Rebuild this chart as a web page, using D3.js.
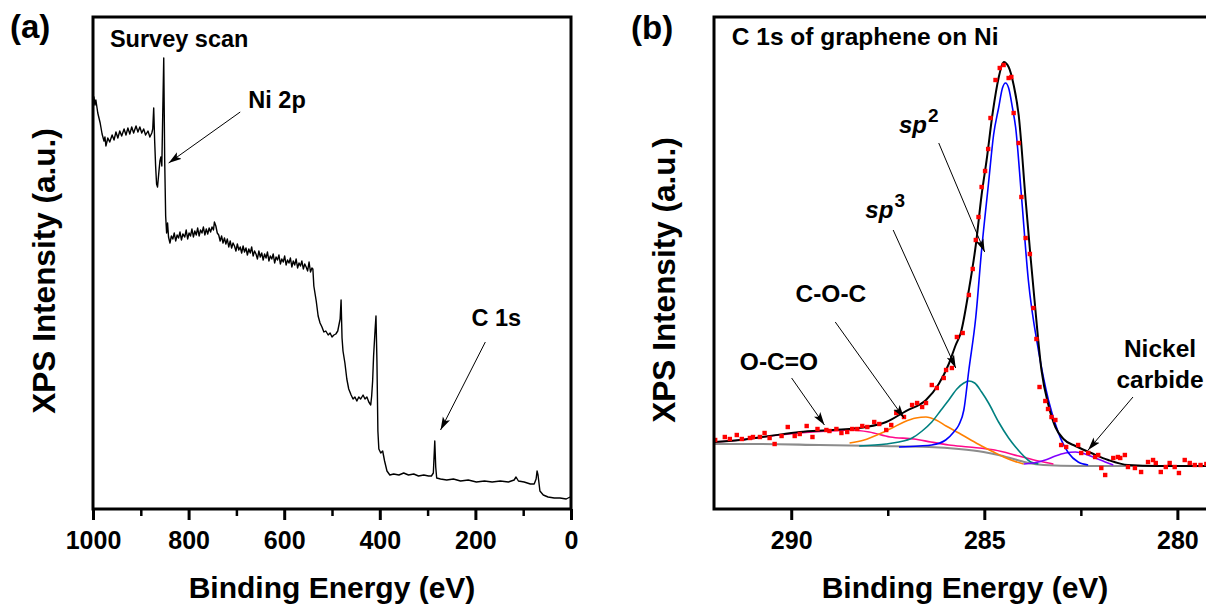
<!DOCTYPE html>
<html><head><meta charset="utf-8">
<script src="https://cdn.jsdelivr.net/npm/d3@7"></script>
<style>
html,body{margin:0;padding:0;background:#fff;}
svg text{font-family:"Liberation Sans",Arial,sans-serif;font-weight:bold;fill:#000;}
</style></head><body>
<svg id="chart" width="1206" height="607"></svg>
<script>
// ---------------- DATA ----------------
// Panel (a): survey spectrum [binding energy (eV), intensity (a.u.)]
const surveySpectrum = [
[1000,408],[998,412],[996,404],[994,409],[990,396],[985,386],[981,375],[977,368],[975,372],[973,363],[969,371],[965,367],[960,374],[956,369],[952,377],[948,371],[944,378],[940,373],[935,380],[931,374],[927,381],[923,375],[919,382],[915,376],[910,383],[906,377],[902,382],[898,376],[894,380],[890,374],[885,378],[881,372],[877,376],[875,380],[873,401],[871,368],[869,343],[867,325],[865,322],[862,338],[860,348],[858,352],[856,343],[854,398],[852,451],[850,348],[848,293],[846,276],[844,286],[842,272],[839,266],[836,273],[833,270],[830,276],[827,268],[824,274],[821,271],[818,277],[815,269],[812,275],[808,272],[805,279],[802,270],[799,276],[796,273],[793,280],[790,272],[787,278],[784,274],[781,281],[778,273],[775,279],[772,276],[769,282],[766,274],[763,280],[760,275],[757,281],[754,277],[751,282],[748,279],[746,287],[743,283],[740,276],[737,274],[734,268],[731,273],[728,266],[725,271],[722,265],[719,270],[716,262],[713,268],[710,261],[707,266],[704,263],[701,258],[698,265],[695,259],[692,262],[689,256],[686,263],[683,257],[680,261],[677,254],[674,260],[671,256],[668,262],[665,253],[662,258],[659,255],[656,250],[653,258],[650,252],[647,256],[644,249],[641,255],[638,251],[635,257],[632,248],[629,253],[626,250],[623,255],[620,246],[617,252],[614,249],[611,254],[608,245],[605,250],[602,247],[599,253],[596,244],[593,249],[590,246],[587,251],[584,242],[581,248],[578,244],[575,250],[572,241],[569,246],[566,243],[563,248],[560,240],[557,245],[554,242],[551,238],[548,247],[545,237],[542,241],[540,240],[538,223],[533,208],[529,193],[525,186],[521,182],[517,177],[513,178],[508,174],[504,176],[500,172],[496,174],[492,175],[488,178],[483,190],[481,209],[479,171],[477,158],[473,146],[469,130],[465,120],[460,114],[456,110],[452,112],[448,108],[444,112],[440,110],[435,114],[431,110],[427,112],[423,107],[419,104],[417,113],[415,128],[413,153],[410,178],[408,193],[406,148],[404,78],[402,60],[398,56],[394,58],[390,48],[385,38],[379,34],[371,35],[360,34],[350,36],[340,34],[329,35],[319,33],[308,34],[298,33],[292,33],[288,36],[285,68],[283,42],[281,31],[273,30],[260,29],[246,30],[231,28],[215,29],[198,27],[181,28],[165,27],[148,28],[131,27],[119,29],[115,32],[110,28],[98,27],[85,25],[77,25],[73,30],[71,38],[69,34],[65,18],[58,14],[48,12],[35,11],[23,11],[10,10],[2,12]
];
const surveyMajorTicks = [1000,800,600,400,200,0];
const surveyMinorTicks = [900,700,500,300,100];

// Panel (b): C 1s high resolution [binding energy (eV), intensity (a.u.)]
const c1sMeasured = [
[291.97,69],[291.72,72],[291.59,70],[291.41,74],[291.28,70],[291.07,71],[290.99,72],[290.81,72],[290.69,76],[290.56,71],[290.43,65],[290.25,73],[290.09,82],[289.91,73],[289.78,75],[289.60,83],[289.45,72],[289.32,80],[289.09,79],[289.01,78],[288.83,80],[288.70,76],[288.55,77],[288.42,80],[288.29,80],[288.16,83],[288.03,82],[287.85,87],[287.72,85],[287.54,79],[287.41,84],[287.28,96],[287.21,97],[287.08,92],[286.87,104],[286.74,106],[286.61,102],[286.51,106],[286.36,124],[286.23,121],[286.05,131],[285.99,139],[285.84,141],[285.71,172],[285.56,176],[285.40,214],[285.30,240],[285.22,269],[285.15,292],[285.07,322],[284.98,338],[284.90,360],[284.84,391],[284.71,429],[284.60,441],[284.50,444],[284.37,431],[284.30,432],[284.24,396],[284.11,366],[284.04,312],[283.93,271],[283.82,255],[283.73,201],[283.65,170],[283.57,122],[283.42,108],[283.35,100],[283.26,92],[283.16,89],[283.01,64],[282.88,62],[282.57,64],[282.49,56],[282.31,56],[282.13,52],[282.05,54],[281.97,41],[281.87,34],[281.66,51],[281.54,52],[281.48,51],[281.36,54],[281.28,42],[281.10,41],[280.94,37],[280.76,47],[280.63,49],[280.56,46],[280.43,37],[280.30,42],[280.20,46],[280.07,42],[279.96,36],[279.81,49],[279.68,46],[279.55,44],[279.40,44],[279.25,45],[279.10,42]
];
const c1sEnvelope = [
[292.0,67],[291.33,69],[290.56,73],[289.78,77],[288.93,79],[288.06,82],[287.54,87],[287.03,98],[286.51,109],[286.18,125],[285.92,145],[285.74,164],[285.61,176],[285.40,219],[285.22,264],[285.07,314],[284.94,349],[284.78,397],[284.63,431],[284.50,447],[284.37,442],[284.24,424],[284.11,394],[283.93,309],[283.80,251],[283.70,209],[283.52,139],[283.34,104],[283.16,82],[282.95,70],[282.64,63],[282.23,56],[281.79,49],[281.28,44],[280.51,43],[279.0,43]
];
const c1sSp2 = [
[287.21,62],[286.69,63],[286.36,64],[286.0,69],[285.79,77],[285.66,84],[285.53,99],[285.40,139],[285.22,192],[285.07,259],[284.89,326],[284.76,374],[284.63,401],[284.53,421],[284.45,426],[284.37,421],[284.27,401],[284.19,382],[284.04,314],[283.86,229],[283.60,159],[283.34,109],[283.08,76],[282.82,56],[282.57,47],[282.31,44]
];
const c1sSp3 = [
[288.24,63],[287.54,65],[287.21,67],[286.87,71],[286.61,78],[286.36,87],[286.12,99],[285.92,109],[285.71,120],[285.53,126],[285.40,128],[285.25,126],[285.07,117],[284.89,106],[284.63,87],[284.37,71],[284.19,62],[283.98,53],[283.80,47],[283.60,45]
];
const c1sCOC = [
[288.49,66],[288.11,69],[287.72,75],[287.39,81],[287.08,87],[286.77,91],[286.51,92],[286.25,89],[285.99,83],[285.66,76],[285.35,69],[285.07,63],[284.76,57],[284.50,52],[284.24,48],[283.98,45]
];
const c1sOCO = [
[291.97,67],[291.33,69],[290.56,73],[289.78,76],[289.01,78],[288.49,79],[287.98,77],[287.44,72],[286.82,70],[286.38,67],[285.92,64],[285.40,62],[284.73,59],[284.11,53],[283.60,48],[283.21,45]
];
const c1sNiC = [
[283.98,45],[283.73,46],[283.42,49],[283.16,53],[282.90,56],[282.64,57],[282.39,55],[282.13,51],[281.87,47],[281.66,44]
];
const c1sBackground = [
[292.0,65],[290.81,65],[289.27,64],[287.72,63],[286.43,62],[285.66,60],[285.02,57],[284.63,54],[284.24,50],[283.86,46],[283.47,44],[282.57,43],[279.0,43]
];
const c1sMajorTicks = [290,285,280];
const c1sMinorTicks = [287.5,282.5];

// annotations (anchored in data coordinates)
const surveyNotes = [
  {text:"Survey scan", be:964.6, i:462},
  {text:"Ni 2p", be:675, i:401},
  {text:"C 1s", be:208.3, i:183}
];
const surveyArrows = [
  {from:[692,397], to:[841.7,346]},
  {from:[179.2,167], to:[272.9,79]}
];
const c1sNotes = [
  {text:"C 1s of graphene on Ni", be:291.54, i:464, anchor:"start"},
  {text:"C-O-C", be:289.89, i:207, anchor:"start"},
  {text:"O-C=O", be:291.33, i:139, anchor:"start"},
  {text:"Nickel", be:280.45, i:152, anchor:"middle"},
  {text:"carbide", be:280.45, i:121, anchor:"middle"}
];
const c1sHybrid = [
  {base:"sp", sup:"2", be:287.21, i:376},
  {base:"sp", sup:"3", be:288.08, i:291}
];
const c1sArrows = [
  {from:[286.18,366], to:[284.99,257]},
  {from:[287.36,279], to:[285.74,141]},
  {from:[288.86,187], to:[287.08,91]},
  {from:[289.99,131], to:[289.14,84]},
  {from:[281.15,112], to:[282.31,59]}
];

// ---------------- DRAWING ----------------
const svg = d3.select("#chart");
const A = {l:93, r:571, t:17, b:509};
const B = {l:714, r:1216, t:17, b:509};
const xA = d3.scaleLinear().domain([1000,0]).range([A.l,A.r]);
const yA = d3.scaleLinear().domain([0,492]).range([A.b,A.t]);
const xB = d3.scaleLinear().domain([292,279]).range([B.l,B.r]);
const yB = d3.scaleLinear().domain([0,492]).range([B.b,B.t]);

const defs = svg.append("defs");
defs.append("marker").attr("id","arrow").attr("markerUnits","userSpaceOnUse")
  .attr("markerWidth",14).attr("markerHeight",9).attr("refX",13).attr("refY",4.5)
  .attr("orient","auto")
  .append("path").attr("d","M0,0.5 L13,4.5 L0,8.5 L3,4.5 Z").attr("fill","#000");
defs.append("clipPath").attr("id","clipB").append("rect")
  .attr("x",B.l).attr("y",B.t).attr("width",B.r-B.l).attr("height",B.b-B.t);
defs.append("clipPath").attr("id","clipA").append("rect")
  .attr("x",A.l).attr("y",A.t).attr("width",A.r-A.l).attr("height",A.b-A.t);

function drawAxis(x, major, minor, P){
  const gMin = svg.append("g").attr("transform",`translate(0,${P.b})`)
    .call(d3.axisBottom(x).tickValues(minor).tickSize(7).tickFormat(""));
  gMin.select(".domain").remove();
  gMin.selectAll("line").attr("stroke","#000").attr("stroke-width",2.5);
  const gMaj = svg.append("g").attr("transform",`translate(0,${P.b})`)
    .call(d3.axisBottom(x).tickValues(major).tickSize(11).tickPadding(11).tickFormat(d3.format("d")));
  gMaj.select(".domain").remove();
  gMaj.selectAll("line").attr("stroke","#000").attr("stroke-width",3);
  gMaj.attr("font-size",25).attr("font-family","Liberation Sans, Arial, sans-serif");
  gMaj.selectAll("text").style("font-size","25px");
  svg.append("rect").attr("x",P.l).attr("y",P.t).attr("width",P.r-P.l).attr("height",P.b-P.t)
    .attr("fill","none").attr("stroke","#000").attr("stroke-width",3);
}

// ---- Panel (a)
const gA = svg.append("g").attr("clip-path","url(#clipA)");
gA.append("path").datum(surveySpectrum)
  .attr("d", d3.line().x(d=>xA(d[0])).y(d=>yA(d[1])))
  .attr("fill","none").attr("stroke","#000").attr("stroke-width",1.4).attr("stroke-linejoin","round");
drawAxis(xA, surveyMajorTicks, surveyMinorTicks, A);

surveyNotes.forEach(n=>{
  svg.append("text").attr("x",xA(n.be)).attr("y",yA(n.i)).style("font-size","23.5px").text(n.text);
});
surveyArrows.forEach(a=>{
  svg.append("line").attr("x1",xA(a.from[0])).attr("y1",yA(a.from[1]))
    .attr("x2",xA(a.to[0])).attr("y2",yA(a.to[1]))
    .attr("stroke","#000").attr("stroke-width",1).attr("marker-end","url(#arrow)");
});

// ---- Panel (b)
const gB = svg.append("g").attr("clip-path","url(#clipB)");
const lineB = d3.line().x(d=>xB(d[0])).y(d=>yB(d[1])).curve(d3.curveMonotoneX);
const comps = [
  {d:c1sBackground, c:"#8c8c8c", w:2.2},
  {d:c1sOCO, c:"#ff0a8c", w:1.6},
  {d:c1sCOC, c:"#ff8000", w:1.6},
  {d:c1sSp3, c:"#008080", w:1.6},
  {d:c1sNiC, c:"#8000ff", w:1.6},
  {d:c1sSp2, c:"#0000ff", w:1.6},
  {d:c1sEnvelope, c:"#000000", w:2}
];
comps.forEach(s=>{
  gB.append("path").datum(s.d).attr("d",lineB).attr("fill","none")
    .attr("stroke",s.c).attr("stroke-width",s.w);
});
gB.selectAll("rect.pt").data(c1sMeasured).enter().append("rect").attr("class","pt")
  .attr("x",d=>xB(d[0])-2.2).attr("y",d=>yB(d[1])-2.2).attr("width",4.4).attr("height",4.4)
  .attr("fill","#ff0000");
drawAxis(xB, c1sMajorTicks, c1sMinorTicks, B);

c1sNotes.forEach(n=>{
  svg.append("text").attr("x",xB(n.be)).attr("y",yB(n.i)).attr("text-anchor",n.anchor)
    .style("font-size","24.5px").text(n.text);
});
c1sHybrid.forEach(n=>{
  const t = svg.append("text").attr("x",xB(n.be)).attr("y",yB(n.i))
    .style("font-size","24px").style("font-style","italic");
  t.append("tspan").text(n.base);
  t.append("tspan").attr("dx",1).attr("dy",-11).style("font-size","19px").style("font-style","normal").text(n.sup);
});
c1sArrows.forEach(a=>{
  svg.append("line").attr("x1",xB(a.from[0])).attr("y1",yB(a.from[1]))
    .attr("x2",xB(a.to[0])).attr("y2",yB(a.to[1]))
    .attr("stroke","#000").attr("stroke-width",1).attr("marker-end","url(#arrow)");
});

// ---- Titles
svg.append("text").attr("x",10).attr("y",38).style("font-size","33px").text("(a)");
svg.append("text").attr("x",631).attr("y",39).style("font-size","33px").text("(b)");
svg.append("text").attr("transform","translate(55,271) rotate(-90)").attr("text-anchor","middle")
  .style("font-size","31.5px").text("XPS Intensity (a.u.)");
svg.append("text").attr("transform","translate(675,280) rotate(-90)").attr("text-anchor","middle")
  .style("font-size","31.5px").text("XPS Intensity (a.u.)");
svg.append("text").attr("x",(A.l+A.r)/2).attr("y",598).attr("text-anchor","middle")
  .style("font-size","30px").text("Binding Energy (eV)");
svg.append("text").attr("x",(B.l+B.r)/2).attr("y",598).attr("text-anchor","middle")
  .style("font-size","30px").text("Binding Energy (eV)");
</script>
</body></html>
